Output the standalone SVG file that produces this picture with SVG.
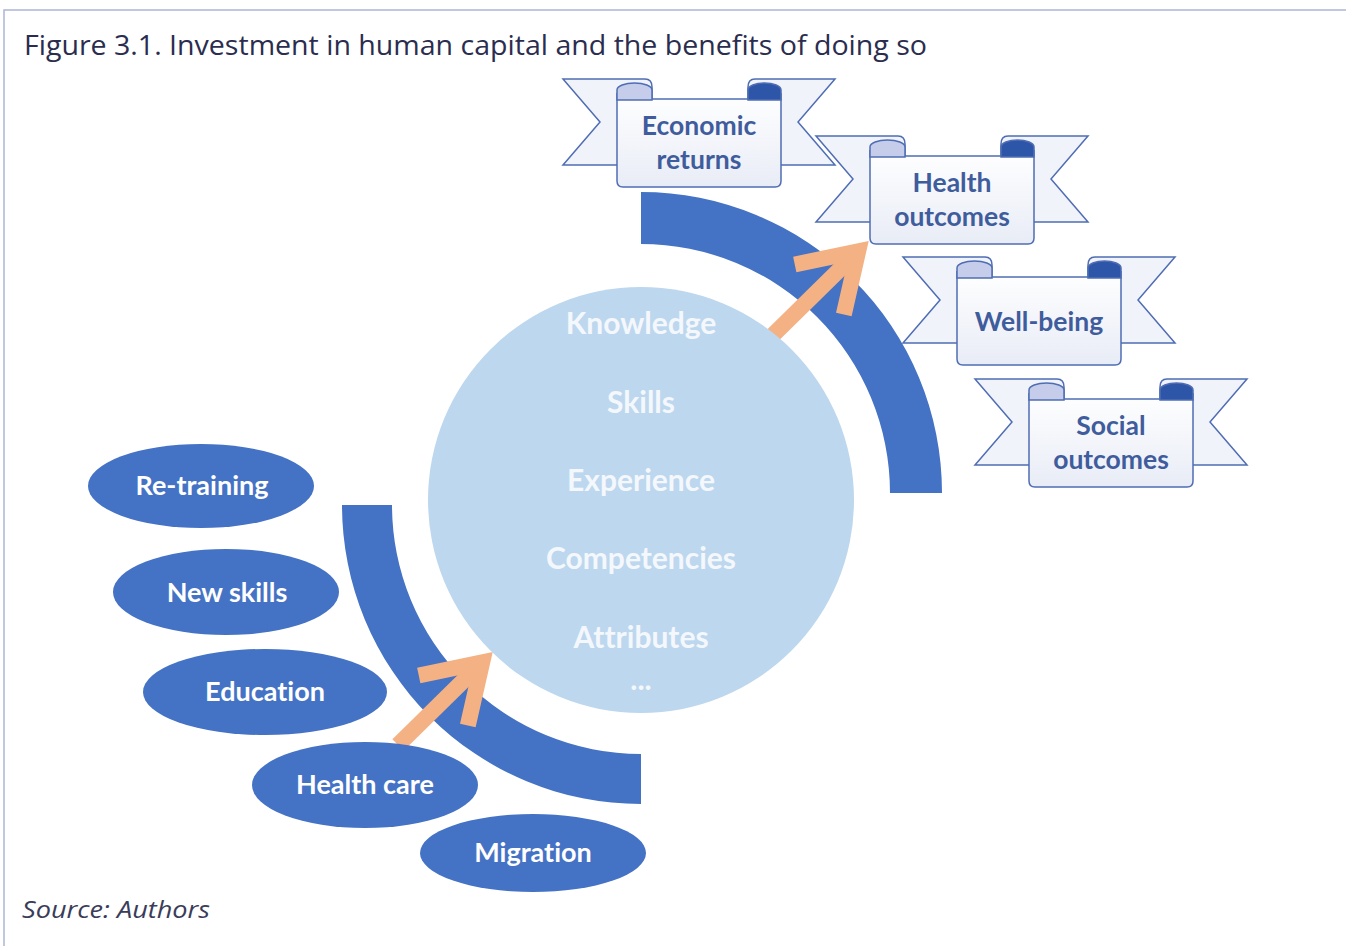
<svg xmlns="http://www.w3.org/2000/svg" width="1346" height="946" viewBox="0 0 1346 946">
<style>
text{font-variant-ligatures:none}
.frame{stroke:#aeb5d8;stroke-width:1.5;fill:none}
.title{font-family:"Open Sans","Liberation Sans",sans-serif;font-size:27px;fill:#2b2d4f}
.source{font-family:"Open Sans","Liberation Sans",sans-serif;font-size:24px;font-style:italic;fill:#3a3c5a}
.band{fill:#4472c4}
.arrow{fill:none;stroke:#f4b183;stroke-width:16;stroke-linejoin:miter;stroke-miterlimit:10;stroke-linecap:butt}
.core{fill:#bdd7ee}
.coretxt{font-family:Lato,"Liberation Sans",sans-serif;font-weight:bold;font-size:30px;fill:#f4f7fc;text-anchor:middle}
.oval{fill:#4472c4}
.ovaltxt{font-family:Lato,"Liberation Sans",sans-serif;font-weight:bold;font-size:27px;fill:#ffffff;text-anchor:middle}
.tail{fill:#f1f3fa;stroke:#4f6db4;stroke-width:1.5;stroke-linejoin:miter}
.box{fill:url(#boxg);stroke:#4f6db4;stroke-width:1.5}
.curlL{fill:#c5cdea;stroke:#4f6db4;stroke-width:1.5}
.curlR{fill:#2e56a8;stroke:#4f6db4;stroke-width:1.5}
.bantxt{font-family:Lato,"Liberation Sans",sans-serif;font-weight:bold;font-size:26.5px;fill:#3f5c9c;text-anchor:middle}
</style>
<defs>
<linearGradient id="boxg" x1="0" y1="0" x2="0" y2="1">
<stop offset="0" stop-color="#ffffff"/>
<stop offset="1" stop-color="#e8ecf6"/>
</linearGradient>
<g id="ribbon">
<path class="tail" d="M-54,0 L28,0 Q35,0 35,8 L35,86 L-54,86 L-17,43 Z"/>
<path class="tail" d="M218,0 L138,0 Q131,0 131,8 L131,86 L218,86 L181,43 Z"/>
<path class="box" d="M0,14 L0,102 Q0,108 6,108 L158,108 Q164,108 164,102 L164,14 L164,20 L0,20 Z"/>
<path class="curlL" d="M0,21 L0,11 A17.5,7 0 0 1 35,11 L35,21 Z"/>
<path class="curlR" d="M131,21 L131,11 A16.5,7 0 0 1 164,11 L164,21 Z"/>
</g>
</defs>
<rect width="1346" height="946" fill="#ffffff"/>
<g id="frame">
<path class="frame" d="M4,946 L4,10 L1346,10"/>
</g>
<text class="title" x="24" y="55" textLength="903" lengthAdjust="spacingAndGlyphs">Figure 3.1. Investment in human capital and the benefits of doing so</text>
<g id="bands">
<path class="band" d="M641,192 A301,301 0 0 1 942,493 L890,493 A249,249 0 0 0 641,244 Z"/>
<path class="band" d="M342,505 A299,299 0 0 0 641,804 L641,754 A249,249 0 0 1 392,505 Z"/>
</g>
<g id="connectors">
<g transform="translate(774,334) rotate(-44.5)">
<path class="arrow" d="M-6,0 L118,0"/>
<path class="arrow" d="M63.5,-35 L118,0 L63.5,35"/>
</g>
<g transform="translate(398,745) rotate(-44.5)">
<path class="arrow" d="M0,0 L118,0"/>
<path class="arrow" d="M63.5,-35 L118,0 L63.5,35"/>
</g>
</g>
<g id="core">
<circle class="core" cx="641" cy="500" r="213"/>
<text class="coretxt" x="641" y="334">Knowledge</text>
<text class="coretxt" x="641" y="413">Skills</text>
<text class="coretxt" x="641" y="491">Experience</text>
<text class="coretxt" x="641" y="569">Competencies</text>
<text class="coretxt" x="641" y="648">Attributes</text>
<text class="coretxt" x="641" y="690">...</text>
</g>
<g id="retraining">
<ellipse class="oval" cx="201" cy="486" rx="113" ry="42"/>
<text class="ovaltxt" x="202" y="495">Re-training</text>
</g>
<g id="newskills">
<ellipse class="oval" cx="226" cy="592" rx="113" ry="43"/>
<text class="ovaltxt" x="227" y="602">New skills</text>
</g>
<g id="education">
<ellipse class="oval" cx="265" cy="692" rx="122" ry="43"/>
<text class="ovaltxt" x="265" y="701">Education</text>
</g>
<g id="healthcare">
<ellipse class="oval" cx="365" cy="785" rx="113" ry="43"/>
<text class="ovaltxt" x="365" y="794">Health care</text>
</g>
<g id="migration">
<ellipse class="oval" cx="533" cy="853" rx="113" ry="39"/>
<text class="ovaltxt" x="533" y="862">Migration</text>
</g>
<g id="economic" transform="translate(617,79)">
<use href="#ribbon"/>
<text class="bantxt" x="82" y="56">Economic</text>
<text class="bantxt" x="82" y="90">returns</text>
</g>
<g id="health" transform="translate(870,136)">
<use href="#ribbon"/>
<text class="bantxt" x="82" y="56">Health</text>
<text class="bantxt" x="82" y="90">outcomes</text>
</g>
<g id="wellbeing" transform="translate(957,257)">
<use href="#ribbon"/>
<text class="bantxt" x="82" y="74">Well-being</text>
</g>
<g id="social" transform="translate(1029,379)">
<use href="#ribbon"/>
<text class="bantxt" x="82" y="56">Social</text>
<text class="bantxt" x="82" y="90">outcomes</text>
</g>
<text class="source" x="22" y="918" textLength="188" lengthAdjust="spacingAndGlyphs">Source: Authors</text>
</svg>
